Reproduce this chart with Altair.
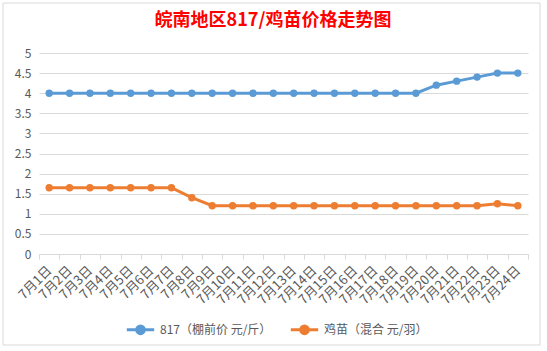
import altair as alt
import pandas as pd

dates = ["7月1日", "7月2日", "7月3日", "7月4日", "7月5日", "7月6日", "7月7日", "7月8日",
         "7月9日", "7月10日", "7月11日", "7月12日", "7月13日", "7月14日", "7月15日", "7月16日",
         "7月17日", "7月18日", "7月19日", "7月20日", "7月21日", "7月22日", "7月23日", "7月24日"]
price_817 = [4, 4, 4, 4, 4, 4, 4, 4, 4, 4, 4, 4, 4, 4, 4, 4, 4, 4, 4, 4.2, 4.3, 4.4, 4.5, 4.5]
price_chick = [1.65, 1.65, 1.65, 1.65, 1.65, 1.65, 1.65, 1.4, 1.2, 1.2, 1.2, 1.2, 1.2, 1.2, 1.2,
               1.2, 1.2, 1.2, 1.2, 1.2, 1.2, 1.2, 1.25, 1.2]
series_names = ["817（棚前价 元/斤）", "鸡苗（混合 元/羽）"]
series_colors = ["#5b9bd5", "#ed7d31"]
title_text = "皖南地区817/鸡苗价格走势图"

rows = []
for d, v in zip(dates, price_817):
    rows.append({"date": d, "series": series_names[0], "value": v})
for d, v in zip(dates, price_chick):
    rows.append({"date": d, "series": series_names[1], "value": v})
df = pd.DataFrame(rows)

FONT = "Noto Sans CJK SC"

x_enc = alt.X("date:N", sort=dates, title=None,
              scale=alt.Scale(type="band", paddingInner=0, paddingOuter=0),
              axis=alt.Axis(labelAngle=-45, labelAlign="right", labelBaseline="middle",
                            labelPadding=9, tickBand="extent", tickSize=5,
                            tickColor="#d9d9d9", domainColor="#d9d9d9", grid=False,
                            labelColor="#595959", labelFont=FONT, labelFontSize=13))
y_enc = alt.Y("value:Q", title=None,
              scale=alt.Scale(domain=[0, 5], nice=False),
              axis=alt.Axis(values=[0, 0.5, 1, 1.5, 2, 2.5, 3, 3.5, 4, 4.5, 5],
                            labelExpr="datum.value", domain=False, ticks=False,
                            gridColor="#d9d9d9", labelColor="#595959",
                            labelFont=FONT, labelFontSize=12, labelPadding=8))
color_enc = alt.Color("series:N", title=None,
                      scale=alt.Scale(domain=series_names, range=series_colors),
                      legend=alt.Legend(orient="none", legendX=86, legendY=261,
                                        direction="horizontal",
                                        symbolType="M-1,0L1,0M-0.28,0A0.28,0.28,0,1,1,0.28,0A0.28,0.28,0,1,1,-0.28,0",
                                        symbolSize=750, symbolStrokeWidth=3,
                                        labelFont=FONT, labelFontSize=12,
                                        labelColor="#595959", columnPadding=12,
                                        labelOffset=4))

base = alt.Chart(df).encode(x=x_enc, y=y_enc, color=color_enc)
lines = base.mark_line(strokeWidth=3)
points = base.mark_point(filled=True, size=55, opacity=1)

one = alt.Data(values=[{"t": title_text}])
border = alt.Chart(one).mark_rect(
    fill=None, stroke="#d9d9d9", strokeWidth=1
).encode(x=alt.value(-36), x2=alt.value(501), y=alt.value(-50), y2=alt.value(292))

title = alt.Chart(one).mark_text(
    color="#ff0000", fontSize=18, fontWeight="bold", font=FONT,
    align="center", baseline="middle"
).encode(text="t:N", x=alt.value(234), y=alt.value(-32))

chart = alt.layer(border, lines, points, title).properties(
    width=489, height=201,
    padding={"left": 39, "top": 53, "right": 19, "bottom": 97},
    autosize=alt.AutoSizeParams(type="none"),
    background="white",
).configure_view(stroke=None)

chart.save("out.html", embed_options={"renderer": "svg", "actions": False})
